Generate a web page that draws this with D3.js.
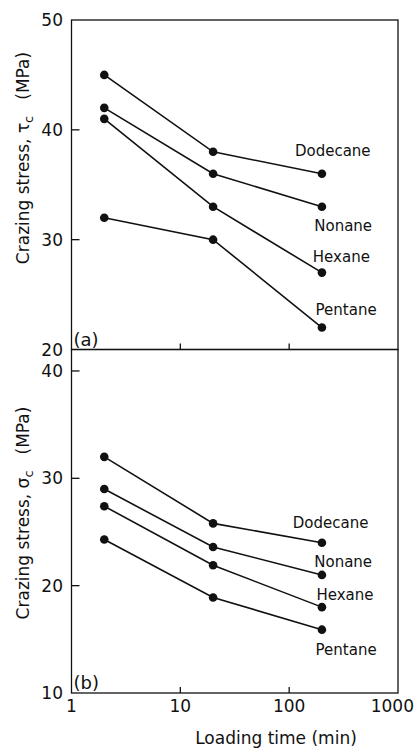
<!DOCTYPE html>
<html><head><meta charset="utf-8">
<script src="https://cdn.jsdelivr.net/npm/d3@7"></script>
<style>body{margin:0;background:#fff}svg{display:block}text{font-family:"DejaVu Sans",sans-serif;fill:#111}</style>
</head><body>
<script>
const times = [2, 20, 200];
const solvents = ["Dodecane", "Nonane", "Hexane", "Pentane"];
const tauC = [
  [45, 38, 36],
  [42, 36, 33],
  [41, 33, 27],
  [32, 30, 22]
];
const sigmaC = [
  [32, 25.8, 24],
  [29, 23.6, 21],
  [27.4, 21.9, 18],
  [24.3, 18.9, 15.9]
];
const xTicks = [1, 10, 100, 1000];
const yTicksA = [20, 30, 40, 50];
const yTicksB = [10, 20, 30, 40];
// label anchor values (x in min, y in MPa) for series names
const labelPosA = [[113, 37.6], [170, 30.8], [165, 28.0], [175, 23.1]];
const labelPosB = [[108, 25.4], [170, 21.7], [178, 18.65], [175, 13.5]];

const W = 416, H = 752;
const svg = d3.select("body").append("svg").attr("width", W).attr("height", H);
const L = 71.5, R = 398;
const x = d3.scaleLog().domain([1, 1000]).range([L, R]);
const yA = d3.scaleLinear().domain([20, 50]).range([349.5, 20]);
const yB = d3.scaleLinear().domain([10, 42]).range([693, 349.5]);

function panel(y, data, yTicks, labelPos, tag, sym, labelCy) {
  const g = svg.append("g");
  const [y0, y1] = y.domain();
  g.append("rect").attr("x", L).attr("y", y(y1)).attr("width", R - L).attr("height", y(y0) - y(y1))
    .attr("fill", "none").attr("stroke", "#111").attr("stroke-width", 1.3);
  yTicks.forEach(t => {
    if (t > y0 && t < y1) g.append("line").attr("x1", L).attr("x2", L + 8).attr("y1", y(t)).attr("y2", y(t))
      .attr("stroke", "#111").attr("stroke-width", 1.3);
    g.append("text").attr("x", 63).attr("y", y(t) + 6).attr("text-anchor", "end")
      .attr("font-size", 17).text(t);
  });
  [10, 100].forEach(t => g.append("line").attr("x1", x(t)).attr("x2", x(t)).attr("y1", y(y0)).attr("y2", y(y0) - 6)
    .attr("stroke", "#111").attr("stroke-width", 1.3));
  const line = d3.line().x((d, i) => x(times[i])).y(d => y(d));
  data.forEach((s, k) => {
    g.append("path").attr("d", line(s)).attr("fill", "none").attr("stroke", "#111").attr("stroke-width", 1.6);
    s.forEach((v, i) => g.append("circle").attr("cx", x(times[i])).attr("cy", y(v)).attr("r", 4.3).attr("fill", "#111"));
    g.append("text").attr("x", x(labelPos[k][0])).attr("y", y(labelPos[k][1]))
      .attr("font-size", 15).text(solvents[k]);
  });
  g.append("text").attr("x", L + 2).attr("y", y(y0) - 4).attr("font-size", 18).text(tag);
  const t = g.append("text").attr("transform", `translate(29,${labelCy}) rotate(-90)`).attr("text-anchor", "middle")
    .attr("font-size", 17);
  t.append("tspan").text("Crazing stress, " + sym);
  t.append("tspan").attr("font-size", 13).attr("dy", 4).text("c");
  t.append("tspan").attr("dy", -4).attr("dx", 16).text("(MPa)");
}
panel(yA, tauC, yTicksA, labelPosA, "(a)", "τ", 158);
panel(yB, sigmaC, yTicksB, labelPosB, "(b)", "σ", 513);

xTicks.forEach(t => svg.append("text").attr("x", t === 1000 ? 414 : x(t)).attr("y", 712)
  .attr("text-anchor", t === 1000 ? "end" : "middle")
  .attr("font-size", 17).text(t));
svg.append("text").attr("x", 276).attr("y", 744).attr("text-anchor", "middle").attr("font-size", 17)
  .text("Loading time (min)");
</script>
</body></html>
